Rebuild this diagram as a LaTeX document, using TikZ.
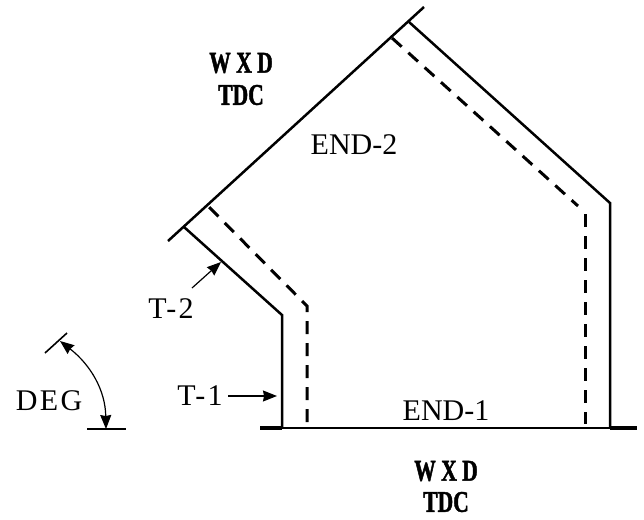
\documentclass[tikz,border=0pt]{standalone}
\usepackage{fontspec}
\setmainfont{Liberation Serif}
\newfontfamily\spacedfont[LetterSpace=8]{Liberation Serif}
\newfontfamily\heavyfont[FakeStretch=0.72,FakeBold=1.5]{Liberation Serif Bold}
\usetikzlibrary {arrows.meta}

\tikzset{
    wall/.style={line width=2.5pt},
    hidden/.style={line width=3pt,dash pattern=on 13pt off 9pt},
    head/.tip={Stealth[length=14pt,width=11pt,inset=1pt]},
    pointer/.style={-head,line width=1.2pt},
    label/.style={inner sep=0pt,font=\fontsize{30}{32}\selectfont},
    wide/.style={inner sep=0pt,font=\fontsize{30}{32}\selectfont\spacedfont},
    heavy/.style={inner sep=0pt,font=\fontsize{30}{32}\selectfont\heavyfont},
}

\begin{document}
\begin{tikzpicture}[x=1pt,y=-1pt]
    \useasboundingbox (0,0) rectangle (644,519);

    \coordinate (base_l)  at (260,428);
    \coordinate (base_r)  at (637,428);
    \coordinate (out_1)   at (282,428);
    \coordinate (out_2)   at (282,315);
    \coordinate (out_3)   at (184,227);
    \coordinate (top_l)   at (168,241);
    \coordinate (top_r)   at (424,7);
    \coordinate (out_4)   at (409,22);
    \coordinate (out_5)   at (610,203);
    \coordinate (out_6)   at (610,428);
    \coordinate (dash_1)  at (307,422);
    \coordinate (dash_2)  at (307,306);
    \coordinate (dash_3)  at (207,205);
    \coordinate (dash_4)  at (392,38);
    \coordinate (dash_5)  at (578,206);
    \coordinate (dash_6)  at (585,214);
    \coordinate (dash_7)  at (585,424);
    \coordinate (deg_a)   at (45,353);
    \coordinate (deg_b)   at (67,333);
    \coordinate (deg_c)   at (60,341);
    \coordinate (deg_d)   at (87,429);
    \coordinate (deg_e)   at (126,429);
    \coordinate (deg_f)   at (106,429);
    \coordinate (t2_tip)  at (221,262);
    \coordinate (t2_tail) at (192,288);
    \coordinate (t1_tip)  at (277,396);
    \coordinate (t1_tail) at (228,396);

    % outline
    \draw [wall] (base_l) -- (base_r);
    \draw [line width=3.2pt] (base_l) -- (out_1);
    \draw [line width=3.2pt] (out_6) -- (base_r);
    \draw [wall] (top_l) -- (top_r);
    \draw [wall,line join=miter] (out_3) -- (out_2) -- (out_1);
    \draw [wall,line join=miter] (out_4) -- (out_5) -- (out_6);

    % inner wall
    \draw [hidden] (dash_1) -- (dash_2) -- (dash_3);
    \draw [hidden] (dash_4) -- (dash_5);
    \draw [hidden] (dash_6) -- (dash_7);

    % angle
    \draw [line width=1.6pt] (deg_a) -- (deg_b);
    \draw [wall] (deg_d) -- (deg_e);
    \draw [head-head,line width=1.2pt]
        (deg_c) to [out=-38,in=91] (deg_f);

    \node [heavy] (wxd_t) at (241,63)  {W X D};
    \node [heavy] (tdc_t) at (241,95)  {TDC};
    \node [heavy] (wxd_b) at (446,471) {W X D};
    \node [heavy] (tdc_b) at (446,502) {TDC};
    \node [label] (end_2) at (354,145) {END-2};
    \node [label] (end_1) at (446,411) {END-1};
    \node [wide]  (t_2)   at (171,309) {T-2};
    \node [wide]  (t_1)   at (200,396) {T-1};
    \node [wide]  (deg)   at (49,401)  {DEG};

    \draw [pointer] (t2_tail) -- (t2_tip);
    \draw [pointer] (t1_tail) -- (t1_tip);
\end{tikzpicture}
\end{document}
